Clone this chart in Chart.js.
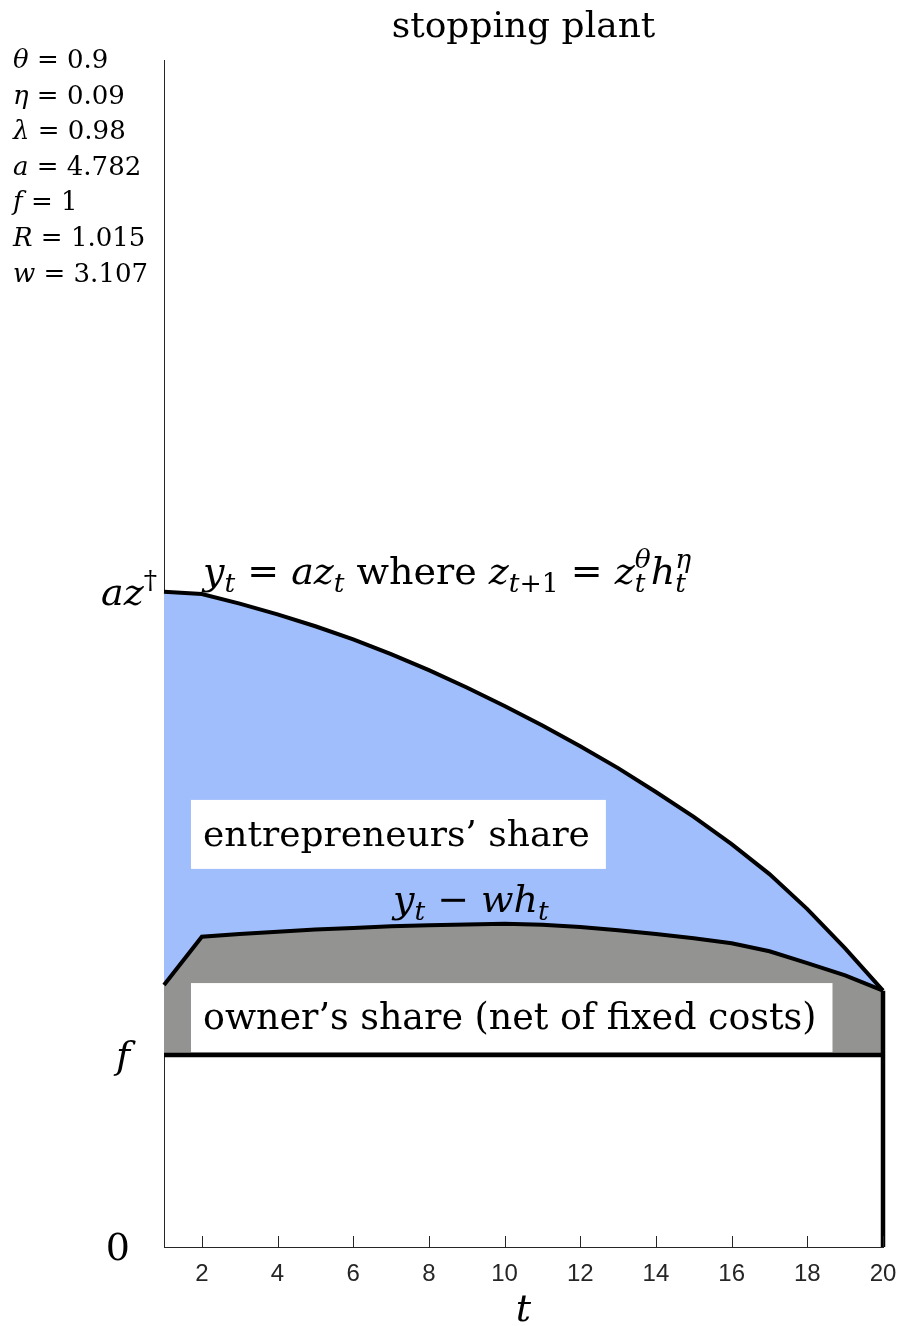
<!DOCTYPE html>
<html>
<head>
<meta charset="utf-8">
<script src="https://cdn.jsdelivr.net/npm/chart.js@4.4.1/dist/chart.umd.min.js"></script>
<style>
  body { margin: 0; background: #fff; }
  canvas { display: block; }
</style>
</head>
<body>
<canvas id="plant" width="901" height="1326"></canvas>
<script>
// periods of the plant's life
const tValues = [1, 2, 3, 4, 5, 6, 7, 8, 9, 10, 11, 12, 13, 14, 15, 16, 17, 18, 19, 20];
// output y_t = a z_t
const outputY = [3.413, 3.401, 3.351, 3.295, 3.233, 3.165, 3.088, 3.004, 2.914, 2.818,
                 2.716, 2.608, 2.494, 2.370, 2.240, 2.098, 1.942, 1.760, 1.555, 1.335];
// output net of wages y_t - w h_t
const netOfWages = [1.365, 1.616, 1.630, 1.642, 1.653, 1.662, 1.670, 1.676, 1.680, 1.683,
                    1.678, 1.667, 1.650, 1.630, 1.608, 1.582, 1.540, 1.478, 1.415, 1.335];
const fixedCost = 1;
const yTop = 6.182;

const xTicks = [2, 4, 6, 8, 10, 12, 14, 16, 18, 20];
const yTickValues = [0, fixedCost, outputY[0]];

const paramNames = ['θ', 'η', 'λ', 'a', 'f', 'R', 'w'];
const paramValues = ['0.9', '0.09', '0.98', '4.782', '1', '1.015', '3.107'];

const SERIF = '"DejaVu Serif"';
const blueFill = 'rgb(161, 190, 252)';
const grayFill = 'rgb(147, 148, 146)';

// little helpers for LaTeX-ish text runs
const I = s => ({ s, it: true });
const R = s => ({ s, it: false });
const Sub = (s, it = true) => ({ s, it, lo: true });
const Sup = (s, it = false) => ({ s, it, hi: true });
const SupSub = (hi, lo) => ({ s: '', stack: [hi, lo] });

function fontFor(it, size) {
  return (it ? 'italic ' : '') + size + 'px ' + SERIF;
}

function drawMath(ctx, runs, x, y, size) {
  let cx = x;
  const small = size * 0.7;
  ctx.textAlign = 'left';
  ctx.textBaseline = 'alphabetic';
  for (const r of runs) {
    if (r.stack) {
      ctx.font = fontFor(true, small);
      const [hi, lo] = r.stack;
      ctx.fillText(hi, cx, y - size * 0.42);
      ctx.fillText(lo, cx, y + size * 0.22);
      cx += Math.max(ctx.measureText(hi).width, ctx.measureText(lo).width);
    } else if (r.lo || r.hi) {
      ctx.font = fontFor(r.it, small);
      ctx.fillText(r.s, cx, r.lo ? y + size * 0.22 : y - size * 0.42);
      cx += ctx.measureText(r.s).width;
    } else {
      ctx.font = fontFor(r.it, size);
      ctx.fillText(r.s, cx, y);
      cx += ctx.measureText(r.s).width;
    }
  }
  return cx - x;
}

function mathWidth(ctx, runs, size) {
  ctx.save();
  ctx.globalAlpha = 0;
  const w = drawMath(ctx, runs, 0, 0, size);
  ctx.restore();
  return w;
}

function boxedText(ctx, text, x, baseline, size) {
  ctx.font = size + 'px ' + SERIF;
  const w = ctx.measureText(text).width;
  ctx.fillStyle = '#fff';
  ctx.fillRect(x - 12, baseline - 46, w + 28, 69);
  ctx.fillStyle = '#000';
  ctx.textAlign = 'left';
  ctx.textBaseline = 'alphabetic';
  ctx.fillText(text, x, baseline);
}

const annotate = {
  id: 'annotate',
  afterDatasetsDraw(chart) {
    const { ctx, chartArea, scales: { x, y } } = chart;
    ctx.save();

    // inward tick marks on the t axis
    ctx.strokeStyle = '#262626';
    ctx.lineWidth = 1;
    xTicks.forEach(v => {
      const px = Math.round(x.getPixelForValue(v)) + 0.5;
      ctx.beginPath();
      ctx.moveTo(px, chartArea.bottom);
      ctx.lineTo(px, chartArea.bottom - 11);
      ctx.stroke();
    });

    ctx.fillStyle = '#000';

    // boxed region labels
    boxedText(ctx, 'entrepreneurs’ share', x.getPixelForValue(2.03), y.getPixelForValue(2.089), 36);
    boxedText(ctx, 'owner’s share (net of fixed costs)', x.getPixelForValue(2.03), y.getPixelForValue(1.135), 36.4);

    // curve labels
    drawMath(ctx, [I('y'), Sub('t'), R(' = '), I('az'), Sub('t'), R(' where '), I('z'), Sub('t'), Sub('+1', false),
                   R(' = '), I('z'), SupSub('θ', 't'), I('h'), SupSub('η', 't')],
             x.getPixelForValue(2.03), y.getPixelForValue(3.453), 38);
    drawMath(ctx, [I('y'), Sub('t'), R(' − '), I('wh'), Sub('t')],
             x.getPixelForValue(7.05), y.getPixelForValue(1.745), 38);

    // y tick labels
    const yRuns = [[R('0')], [I('f')], [I('az'), Sup('†')]];
    const yRight = [130, 130, 157];
    yTickValues.forEach((v, i) => {
      const w = mathWidth(ctx, yRuns[i], 38);
      drawMath(ctx, yRuns[i], yRight[i] - w, y.getPixelForValue(v) + 13, 38);
    });

    // axis label
    const cx = (chartArea.left + chartArea.right) / 2;
    ctx.font = 'italic 38px ' + SERIF;
    ctx.textAlign = 'center';
    ctx.fillText('t', cx, 1321);

    // title
    ctx.font = '36px ' + SERIF;
    ctx.fillText('stopping plant', cx, 37);

    // parameter list
    paramNames.forEach((name, i) => {
      drawMath(ctx, [I(name), R(' = ' + paramValues[i])], 13, 68 + i * 35.6, 26);
    });

    ctx.restore();
  }
};

const xy = (xs, ys) => xs.map((t, i) => ({ x: t, y: ys[i] }));

new Chart(document.getElementById('plant'), {
  type: 'line',
  data: {
    datasets: [
      {
        data: xy(tValues, outputY),
        borderColor: '#000',
        borderWidth: 4,
        backgroundColor: blueFill,
        fill: '+1',
        pointRadius: 0,
        tension: 0,
        clip: false
      },
      {
        data: xy(tValues, netOfWages),
        borderColor: '#000',
        borderWidth: 4,
        backgroundColor: grayFill,
        fill: { value: fixedCost },
        pointRadius: 0,
        tension: 0,
        clip: false
      },
      {
        data: [{ x: tValues[0], y: fixedCost }, { x: tValues[tValues.length - 1], y: fixedCost }],
        borderColor: '#000',
        borderWidth: 4.5,
        fill: false,
        pointRadius: 0,
        clip: false
      },
      {
        data: [{ x: 20, y: 0 }, { x: 20, y: outputY[outputY.length - 1] }],
        borderColor: '#000',
        borderWidth: 4.5,
        fill: false,
        pointRadius: 0,
        clip: false
      }
    ]
  },
  options: {
    responsive: false,
    devicePixelRatio: 1,
    animation: false,
    layout: { padding: { top: 60, right: 18, left: 0, bottom: 0 } },
    plugins: {
      legend: { display: false },
      tooltip: { enabled: false },
      title: { display: false },
      filler: { drawTime: 'beforeDatasetsDraw' }
    },
    scales: {
      x: {
        type: 'linear',
        min: 1,
        max: 20,
        grid: { display: false },
        border: { display: true, color: '#262626', width: 1 },
        afterBuildTicks: s => { s.ticks = xTicks.map(v => ({ value: v })); },
        afterFit: s => { s.height = 79; s.paddingLeft = 0; s.paddingRight = 0; },
        ticks: {
          padding: 5,
          color: '#262626',
          font: { family: '"Liberation Sans Narrow", "Liberation Sans"', size: 24 },
          maxRotation: 0
        }
      },
      y: {
        type: 'linear',
        min: 0,
        max: yTop,
        grid: { display: false },
        border: { display: true, color: '#262626', width: 1 },
        ticks: { display: false },
        afterFit: s => { s.width = 164; s.paddingTop = 0; s.paddingBottom = 0; }
      }
    }
  },
  plugins: [annotate]
});
</script>
</body>
</html>
